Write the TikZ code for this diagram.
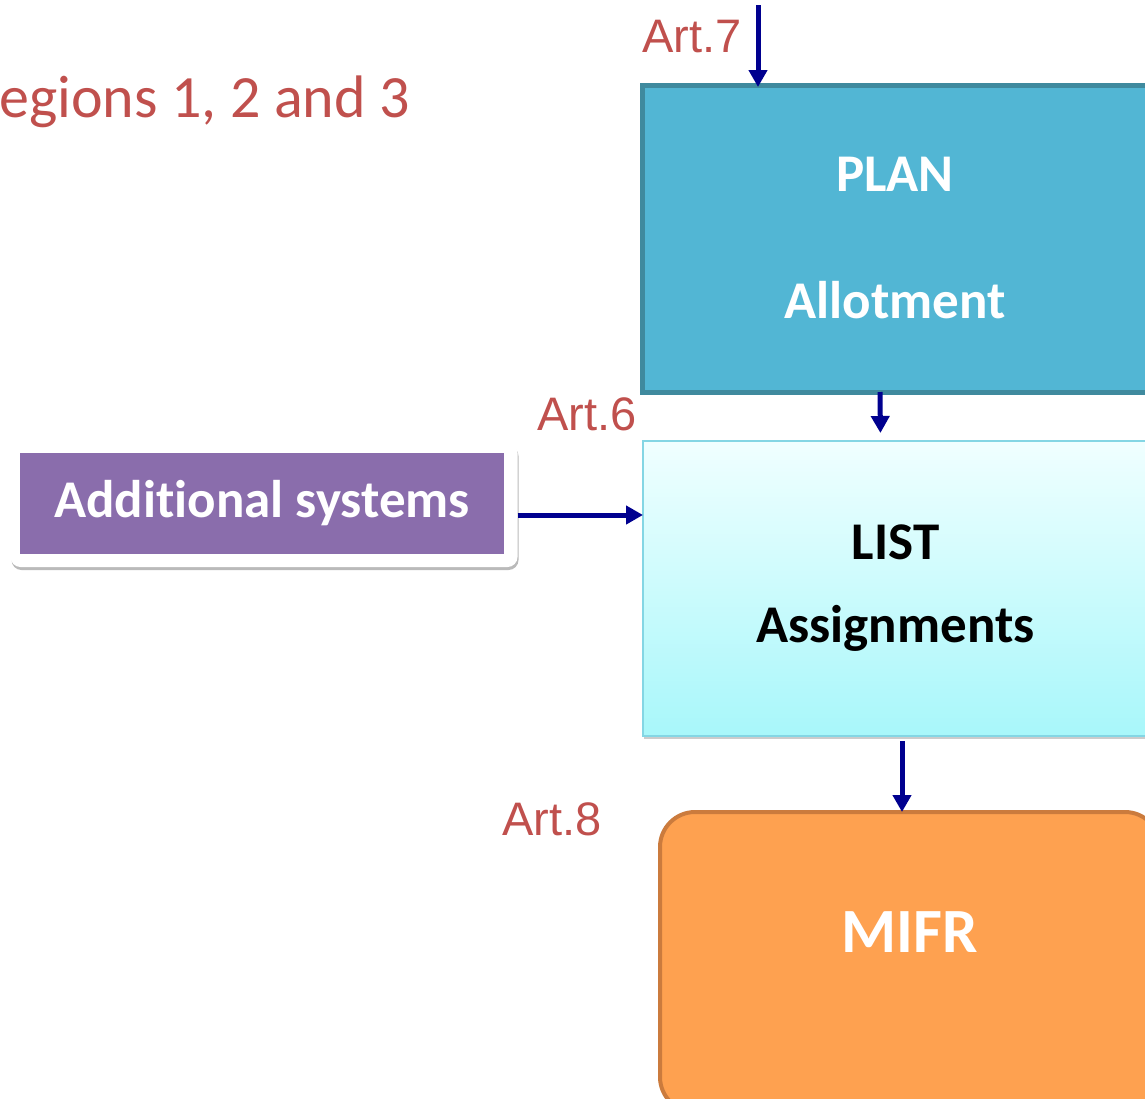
\documentclass[tikz,border=0pt]{standalone}
\usepackage{fontspec}
\setmainfont{Carlito}[Ligatures=NoCommon]
\newfontfamily\arialfont{Liberation Sans}
\usetikzlibrary{arrows.meta,shadows}
\definecolor{artred}{HTML}{C0504D}
\definecolor{planfill}{HTML}{52B6D4}
\definecolor{plandraw}{HTML}{3F8A9E}
\definecolor{listtop}{HTML}{F0FFFF}
\definecolor{listbot}{HTML}{A8F7FA}
\definecolor{listdraw}{HTML}{84D6E4}
\definecolor{mifrfill}{HTML}{FEA150}
\definecolor{mifrdraw}{HTML}{CB7B3D}
\definecolor{addfill}{HTML}{8A6DAC}
\definecolor{arrowblue}{HTML}{00008F}
\begin{document}
\begin{tikzpicture}[x=1pt,y=-1pt,
  every node/.style={inner sep=0pt, outer sep=0pt},
  flow/.style={draw=arrowblue, line width=5pt, -{Triangle[length=17pt,width=18pt]}},
  artlabel/.style={text=artred, font=\arialfont\fontsize{47}{56}\selectfont, anchor=base west},
  boxtext/.style={font=\bfseries\fontsize{53}{64}\selectfont, align=center},
]
\useasboundingbox (0,0) rectangle (1145,1098);

% title (starts at the left edge)
\node[text=artred, font=\fontsize{60}{72}\selectfont, anchor=base east] (title) at (410,117) {egions 1, 2 and 3};

% boxes
\node[draw=plandraw, fill=planfill, line width=5pt, minimum width=506pt, minimum height=307pt,
      text=white, boxtext] (plan) at (895,238.5) {PLAN\\[63pt]Allotment};

\node[draw=listdraw, line width=2pt, top color=listtop, bottom color=listbot,
      minimum width=505pt, minimum height=295pt,
      drop shadow={shadow xshift=1pt, shadow yshift=-3pt, fill=black!40, opacity=0.5},
      boxtext] (list) at (895.5,588.5) {LIST\\[19pt]Assignments};

\node[draw=mifrdraw, fill=mifrfill, line width=4pt, rounded corners=35pt,
      minimum width=500pt, minimum height=300pt] (mifr) at (910,962) {};
\node[text=white, font=\bfseries\fontsize{63}{75}\selectfont] (mifrtext) at (910,932) {MIFR};

\node[fill=white, rounded corners=10pt, minimum width=507pt, minimum height=124pt,
      drop shadow={shadow xshift=1pt, shadow yshift=-3pt, fill=black!45, opacity=0.6}] (addouter) at (264,505) {};
\node[fill=addfill, minimum width=484pt, minimum height=101pt, text=white, boxtext] (add) at (262,503.5) {Additional systems};

% labels
\node[artlabel] (art7) at (642,52) {Art.7};
\node[artlabel] (art6) at (537,430) {Art.6};
\node[artlabel] (art8) at (502,835) {Art.8};

% connectors
\coordinate (a7top) at (758,5);
\draw[flow, shorten >=-2pt] (a7top) -- (a7top |- plan.north);
\draw[flow, shorten >=8pt] ([xshift=-15pt]plan.south) -- ([xshift=-15pt]list.north);
\draw[flow] ([yshift=-10pt]addouter.east) -- ([yshift=-10pt]addouter.east -| list.west);
\draw[flow, shorten <=5pt] ([xshift=6.5pt]list.south) -- ([xshift=6.5pt]list.south |- mifr.north);
\end{tikzpicture}
\end{document}
